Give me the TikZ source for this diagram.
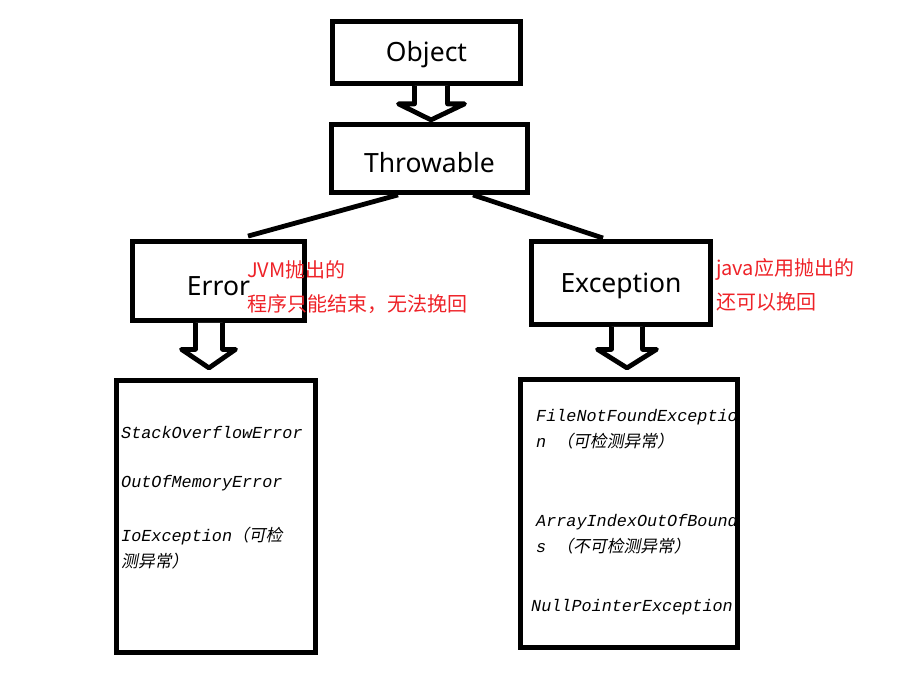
\documentclass[tikz,border=0pt]{standalone}
\usepackage{fontspec}
\setmainfont{Noto Sans}
\newfontfamily\cjk{Noto Sans CJK SC}
\newfontfamily\cjkit{Noto Sans CJK SC}[FakeSlant=0.2]
\newfontfamily\monoit{Liberation Mono}
\definecolor{notered}{RGB}{238,34,40}

\begin{document}
\begin{tikzpicture}[x=1pt, y=-1pt,
  box/.style={draw, rectangle, line width=4.8pt, inner sep=0pt, font=\fontsize{26.5}{30}\selectfont, text height=19pt, text depth=0pt},
  link/.style={line width=4.8pt},
  hollow/.style={draw, fill=white, line width=4.8pt, line join=round},
  note/.style={anchor=west, inner sep=0pt, align=left, text=notered, font=\cjk\fontsize{20}{34.5}\selectfont},
  item/.style={anchor=west, inner sep=0pt, align=left, font=\monoit\itshape\fontsize{16.8}{26}\selectfont}]
  \useasboundingbox (0,0) rectangle (901,674);

  % Classes
  \node[box, minimum width=188pt, minimum height=62pt] (Object) at (426.5,52.5) {Object};
  \node[box, minimum width=196pt, minimum height=68pt, text height=28pt] (Throw) at (429.5,158.5) {Throwable};
  \node[box, minimum width=172pt, minimum height=79pt, text height=28pt] (Error) at (218.5,281) {Error};
  \node[box, minimum width=179pt, minimum height=83pt] (Except) at (621,283) {Exception};
  \node[box, minimum width=199pt, minimum height=272pt] (ErrList) at (216,516.5) {};
  \node[box, minimum width=217pt, minimum height=268pt] (ExcList) at (629,513.5) {};

  % Notes
  \node[note] (ErrNote) at (247,287) {JVM抛出的\\程序只能结束，无法挽回};
  \node[note] (ExcNote) at (716,285) {java应用抛出的\\还可以挽回};

  % Subclasses
  \node[item] (SOE) at (121,432) {StackOverflowError};
  \node[item] (OOM) at (121,483) {OutOfMemoryError};
  \node[item] (IOE) at (121,548.5) {IoException{\cjkit （可检}\\{\cjkit 测异常）}};
  \node[item] (FNF) at (536,429.5) {FileNotFoundExceptio\\n {\cjkit （可检测异常）}};
  \node[item] (AIO) at (536,534.5) {ArrayIndexOutOfBound\\s {\cjkit （不可检测异常）}};
  \node[item] (NPE) at (531,607) {NullPointerException};

  % Inheritance
  \draw[hollow] ([xshift=-12pt]Object.south) -- ++(0,18) -- ++(-16,0) -- ++(32.5,16) -- ++(33.5,-16) -- ++(-17,0) -- ++(0,-18);
  \draw[link] ([xshift=-31.5pt]Throw.south) -- ([xshift=29.5pt, yshift=3pt]Error.north);
  \draw[link] ([xshift=43.5pt]Throw.south) -- ([xshift=-18pt, yshift=1pt]Except.north);
  \draw[hollow] ([xshift=-23pt]Error.south) -- ++(0,26.5) -- ++(-14,0) -- ++(27.5,18.5) -- ++(26.5,-18.5) -- ++(-13,0) -- ++(0,-26.5);
  \draw[hollow] ([xshift=-9.5pt]Except.south) -- ++(0,22.5) -- ++(-14,0) -- ++(29.5,18.5) -- ++(29.5,-18.5) -- ++(-14,0) -- ++(0,-22.5);
\end{tikzpicture}
\end{document}
